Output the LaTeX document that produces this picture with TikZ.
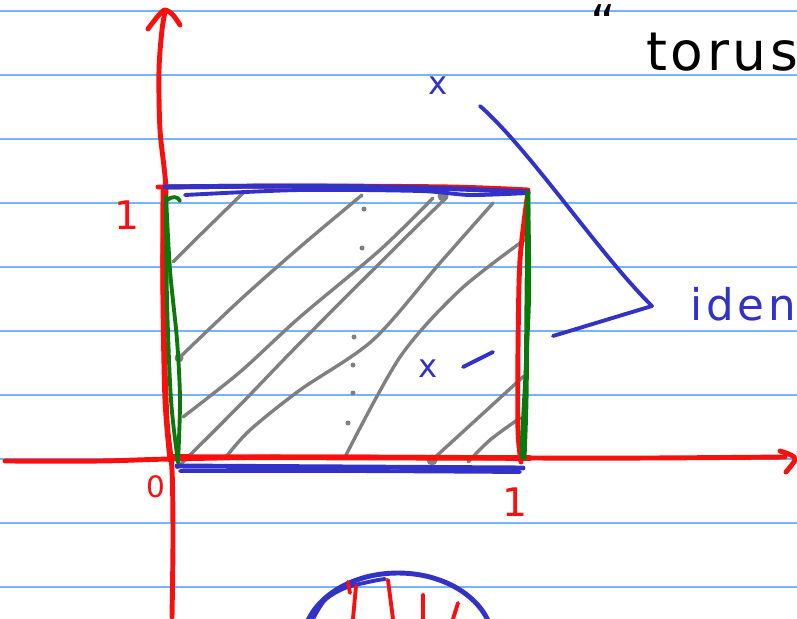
\documentclass[tikz,border=0pt]{standalone}
\usepackage{fontspec}
\setmainfont{DejaVu Sans}
\usepackage{tikz}
\usetikzlibrary{calc}
\usepackage{xcolor}
\definecolor{penred}{RGB}{250, 15, 15}
\definecolor{penblue}{RGB}{50, 50, 200}
\definecolor{pengreen}{RGB}{10, 120, 10}
\definecolor{pengray}{RGB}{128, 128, 128}
\definecolor{rulerblue}{RGB}{115, 180, 250}

\begin{document}
\begin{tikzpicture}[x=0.05cm, y=-0.05cm,
	ruled/.style={rulerblue, line width=2.6pt},
	pen/.style={line width=7pt, line cap=round, line join=round},
	thinpen/.style={pen, line width=5.5pt},
	hatchline/.style={pen, pengray, line width=4.8pt},
	handtext/.style={inner sep=0pt, font=\fontsize{#1}{#1}\selectfont},
	handtext/.default=44
	]
	\fill[white] (0,0) rectangle (797,619);
	\useasboundingbox (0,0) rectangle (797,619);
	% ruled paper
	\foreach \k in {0,...,9}
	\draw[ruled] (0,{10.7+64*\k}) -- (797,{10.7+64*\k});

	% hatching of the square
	\draw[hatchline] plot[smooth] coordinates {(173,262) (195,240) (243,193)};
	\draw[hatchline] plot[smooth] coordinates {(179,358) (240,300) (300,247) (362,195)};
	\draw[hatchline] plot[smooth] coordinates {(183,417) (240,372) (300,317) (380,250) (433,198)};
	\draw[hatchline] plot[smooth] coordinates {(177,468) (240,405) (300,343) (400,243) (447,197)};
	\draw[hatchline] plot[smooth] coordinates {(226,457) (250,430) (300,390) (373,340) (440,263) (493,203)};
	\draw[hatchline] plot[smooth] coordinates {(345,457) (400,357) (460,290) (527,238)};
	\draw[hatchline] (432,460) -- (524,376);
	\draw[hatchline] plot[smooth] coordinates {(468,462) (490,440) (520,418)};
	\fill[pengray] (443,196) circle (5.5) (432,460) circle (5.5) (179,358) circle (4.5);
	\foreach \p in {(364,209), (362,248), (354,337), (353,365), (353,393), (348,423)}
	\fill[pengray] \p circle (2.5);

	% axes
	\draw[pen, penred] plot[smooth] coordinates {(172,617) (173,540) (172,470) (167,420)
		(164,330) (163,250) (166,190) (160,130) (159,70) (162,30) (165,12)};
	\draw[pen, penred] plot[smooth] coordinates {(148,29) (158,16) (165,10) (173,15) (180,25)};
	\draw[pen, penred] plot[smooth] coordinates {(5,461) (100,461) (170,459) (300,457)
		(530,458) (650,458) (785,457)};
	\draw[pen, penred] plot[smooth] coordinates {(780,451) (791,455) (795,460) (786,472)};

	% the unit square
	\draw[pen, penred] plot[smooth] coordinates {(158,187) (300,186) (450,187) (528,190)};
	\draw[pen, penred] plot[smooth] coordinates {(163,190) (163,300) (165,400) (170,460)};
	\draw[pen, penred] plot[smooth] coordinates {(528,192) (520,260) (518,350) (518,430) (521,462)};
	\draw[pen, penred, line width=8pt] (170,457) -- (530,458);
	\draw[pen, penblue] plot[smooth] coordinates {(165,187) (300,186) (430,188) (528,192)};
	\draw[thinpen, penblue] plot[smooth] coordinates {(185,195) (300,190) (420,191) (470,195) (528,193)};
	\draw[pen, penblue] plot[smooth] coordinates {(177,466) (350,467) (523,468)};
	\draw[thinpen, penblue] plot[smooth] coordinates {(180,471) (350,471) (520,472)};
	\draw[thinpen, pengreen] plot[smooth] coordinates {(166,196) (170,270) (177,340) (180,400) (178,463)};
	\draw[thinpen, pengreen] plot[smooth] coordinates {(166,200) (167,300) (171,400) (178,462)};
	\draw[thinpen, pengreen] (167,200) .. controls (172,196) and (178,196) .. (180,201);
	\draw[pen, pengreen] plot[smooth] coordinates {(528,193) (527,300) (526,400) (524,458)};
	\draw[thinpen, pengreen] plot[smooth] coordinates {(528,195) (529,300) (522,440) (523,458)};

	% labels
	\node[handtext=56, penred] (ytick) at (127,215) {1};
	\node[handtext=42, penred] (origin) at (156,487) {0};
	\node[handtext=56, penred] (xtick) at (515,502) {1};
	\node[handtext=46, penblue] (xtop) at (438,86) {x};
	\node[handtext=46, penblue] (xbot) at (428,369) {x};
	\node[handtext=62, penblue, anchor=base west] (iden) at (690,320)
	{\addfontfeature{LetterSpace=9}iden};
	\node[handtext=76, anchor=base west] (torus) at (646,70)
	{\addfontfeature{LetterSpace=7}torus};
	\node[handtext=70, anchor=north] (quote) at (603,4) {“};

	% identification marks
	\coordinate (tip) at (652,306);
	\coordinate (arm) at (553,336);
	\draw[thinpen, penblue] (xtop) ++(42,20) .. controls (530,150) and (600,255) .. (tip) -- (arm);
	\draw[thinpen, penblue] (xbot) ++(35,-2) -- ++(30,-15);

	% bottom sketch
	\draw[pen, penblue] (398,643) ellipse [x radius=95, y radius=70];
	\draw[thinpen, penblue] plot[smooth] coordinates {(313,619) (325,600) (345,588) (373,581) (385,579)};
	\draw[thinpen, penred] (348,582) -- (350,593);
	\draw[thinpen, penred] (356,586) -- (353,619);
	\draw[thinpen, penred] (388,580) -- (393,619);
	\draw[thinpen, penred] (423,595) -- (423,619);
	\draw[thinpen, penred] (458,603) -- (453,619);
\end{tikzpicture}
\end{document}
